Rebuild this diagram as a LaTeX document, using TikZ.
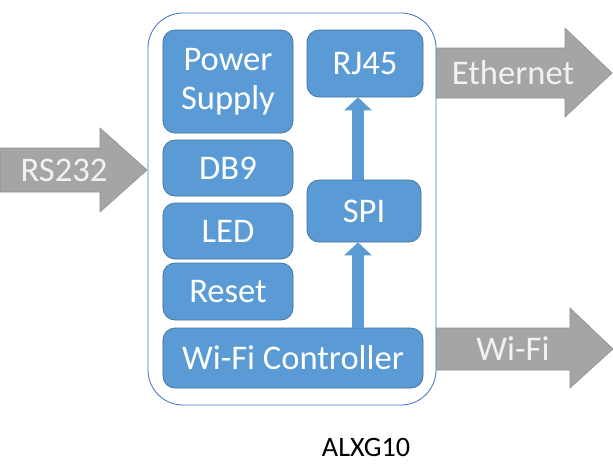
\documentclass[tikz,border=0pt]{standalone}
\usepackage{fontspec}
\setmainfont{Carlito}
\usetikzlibrary{arrows.meta, positioning, calc}
\definecolor{boxblue}{HTML}{5B9BD5}
\definecolor{boxedge}{HTML}{41719C}
\definecolor{frameblue}{HTML}{4472C4}
\definecolor{arrowgray}{HTML}{A5A5A5}
\definecolor{arrowedge}{HTML}{8F8F8F}
\tikzset{
  blk/.style={fill=boxblue, draw=boxedge, line width=0.6pt, rounded corners=0.36cm,
    text=white, align=center, inner sep=0pt, font=\fontsize{29.5}{33}\selectfont},
  bigarrow/.style={fill=arrowgray, draw=arrowedge, line width=0.5pt},
  arrowtext/.style={text=white!95!black, font=\fontsize{29.5}{33}\selectfont},
  uparrow/.style={draw=boxblue, line width=0.36cm, -{Triangle[length=0.39cm,width=0.81cm]}}
}

\begin{document}
\begin{tikzpicture}[x=0.03cm, y=-0.03cm]
\useasboundingbox (0,0) rectangle (613,463);
% outside links
\draw[bigarrow] (436,48) -- (565,48) -- (565,28) -- (612,73) -- (565,117) -- (565,98) -- (436,98) -- cycle;
\draw[bigarrow] (436,328) -- (570,328) -- (570,308) -- (613,349) -- (570,388) -- (570,370) -- (436,370) -- cycle;
\draw[bigarrow] (0,148) -- (100,148) -- (100,128) -- (147,170) -- (100,212) -- (100,192) -- (0,192) -- cycle;
\node[arrowtext] (eth) at (513,73) {Ethernet};
\node[arrowtext] (wlan) at (513,349) {Wi-Fi};
\node[arrowtext] (rs) at (64,170) {RS232};
% device frame
\draw[frameblue, fill=white, line width=0.7pt, rounded corners=1.05cm] (148,13) rectangle (436,405);
% blocks
\node[blk, minimum width=3.9cm, minimum height=3.09cm] (psu) at (228,81.5) {Power\\Supply};
\node[blk, minimum width=3.9cm, minimum height=1.68cm] (db) at (228,168) {DB9};
\node[blk, minimum width=3.9cm, minimum height=1.68cm] (led) at (228,231) {LED};
\node[blk, minimum width=3.9cm, minimum height=1.71cm] (rst) at (228,291.5) {Reset};
\node[blk, minimum width=7.8cm, minimum height=1.8cm] (wifi) at (293,358) {Wi-Fi Controller};
\node[blk, minimum width=3.48cm, minimum height=2.01cm] (rj) at (365,63.5) {RJ45};
\node[blk, minimum width=3.42cm, minimum height=1.86cm] (spi) at (364,211) {SPI};
% internal links
\draw[uparrow] ($(spi.south |- wifi.north)+(-0.18cm,0)$) -- ($(spi.south)+(-0.18cm,0)$);
\draw[uparrow] ($(spi.north)+(-0.18cm,0)$) -- ($(spi.north |- rj.south)+(-0.18cm,0)$);
% caption
\node[inner sep=0pt, font=\fontsize{24}{28}\selectfont] (name) at (366,447) {ALXG10};
\end{tikzpicture}
\end{document}
